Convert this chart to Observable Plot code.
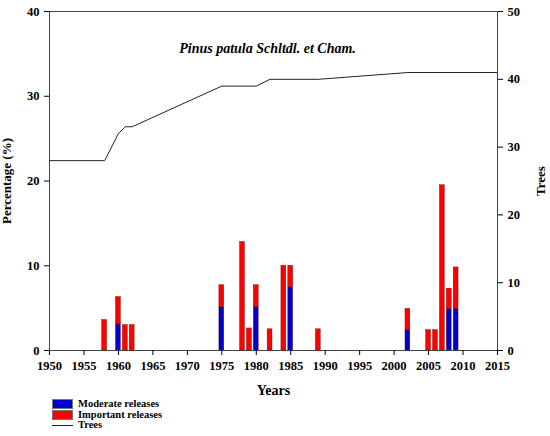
<!DOCTYPE html>
<html>
<head>
<meta charset="utf-8">
<script src="https://cdn.jsdelivr.net/npm/d3@7"></script>
<script src="https://cdn.jsdelivr.net/npm/@observablehq/plot@0.6"></script>
<style>
  body { margin: 0; background: #fff; }
  #chart svg text { font-weight: bold; }
  #legend { font-family: "Liberation Serif", serif; font-weight: bold; font-size: 10.5px; margin-left: 52px; line-height: 10.5px; margin-top: 2px; }
  #legend div { display: flex; align-items: center; }
  #legend span.sw { display: inline-block; width: 19px; height: 8px; border: 1px solid #777; margin-right: 5px; }
  #legend span.ln { display: inline-block; width: 21px; height: 0; border-top: 1px solid #222; margin-right: 5px; }
</style>
</head>
<body>
<div id="chart"></div>
<div id="legend">
  <div><span class="sw" style="background:#0000cc"></span>Moderate releases</div>
  <div><span class="sw" style="background:#ff0000"></span>Important releases</div>
  <div><span class="ln"></span>Trees</div>
</div>
<script>
// release years and percentages of trees
const years = [1958, 1960, 1961, 1962, 1975, 1978, 1979, 1980, 1982, 1984, 1985, 1989, 2002, 2005, 2006, 2007, 2008, 2009]
const moderate = [0, 3.1, 0, 0, 5.1, 0, 0, 5.1, 0, 0, 7.5, 0, 2.4, 0, 0, 0, 4.9, 4.9]
const important = [3.6, 3.2, 3.0, 3.0, 2.6, 12.8, 2.6, 2.6, 2.5, 10, 2.5, 2.5, 2.5, 2.4, 2.4, 19.5, 2.4, 4.9]

// number of trees in the sample
const treeYears = [1950, 1958, 1960, 1961, 1962, 1975, 1980, 1982, 1989, 2002, 2015]
const trees = [28, 28, 32, 33, 33, 39, 39, 40, 40, 41, 41]

const xTicks = d3.range(1950, 2016, 5)
const leftTicks = [0, 10, 20, 30, 40]
const rightTicks = [0, 10, 20, 30, 40, 50]

const k = 40 / 50 // trees -> percent axis
const hw = 0.35

let bars = []
years.forEach((y, i) => {
  if (moderate[i] > 0) bars.push({year: y, y1: 0, y2: moderate[i], fill: '#0000cc'})
  bars.push({year: y, y1: moderate[i], y2: moderate[i] + important[i], fill: '#ff0000'})
})
let line = treeYears.map((y, i) => ({year: y, v: trees[i] * k}))

const font = '"Liberation Serif", serif'

chart = Plot.plot({
  width: 550,
  height: 397,
  marginLeft: 49,
  marginRight: 53,
  marginTop: 11,
  marginBottom: 47,
  style: {fontFamily: font, fontSize: '12.5px', color: '#000'},
  x: {domain: [1950, 2015]},
  y: {domain: [0, 40]},
  marks: [
    Plot.rectY(bars, {
      x1: d => d.year - hw,
      x2: d => d.year + hw,
      y1: 'y1',
      y2: 'y2',
      fill: 'fill',
      stroke: '#600',
      strokeWidth: 0.4,
    }),
    Plot.line(line, {x: 'year', y: 'v', stroke: '#222', strokeWidth: 1}),
    Plot.frame({stroke: '#444'}),
    Plot.axisX({ticks: xTicks, tickFormat: d => String(d), tickSize: 5, tickPadding: 6, fontSize: 12.5, label: null}),
    Plot.axisX({ticks: [], label: 'Years', labelAnchor: 'center', labelArrow: 'none', labelOffset: 44, fontSize: 14}),
    Plot.axisY({ticks: leftTicks, tickSize: 5, tickPadding: 5, label: null}),
    Plot.axisY({ticks: [], label: 'Percentage (%)', labelAnchor: 'center', labelArrow: 'none', labelOffset: 48, fontSize: 13}),
    Plot.axisY({anchor: 'right', ticks: rightTicks.map(t => t * k), tickFormat: d => String(Math.round(d / k)), tickSize: 5, tickPadding: 5, label: null}),
    Plot.axisY({anchor: 'right', ticks: [], label: 'Trees', labelAnchor: 'center', labelArrow: 'none', labelOffset: 47, fontSize: 13}),
    Plot.text(['Pinus patula Schltdl. et Cham.'], {
      frameAnchor: 'top',
      dx: -6,
      dy: 32,
      fontSize: 14,
      fontStyle: 'italic',
      fontWeight: 'bold',
    }),
  ],
})
d3.select('#chart').append(() => chart)
</script>
</body>
</html>
